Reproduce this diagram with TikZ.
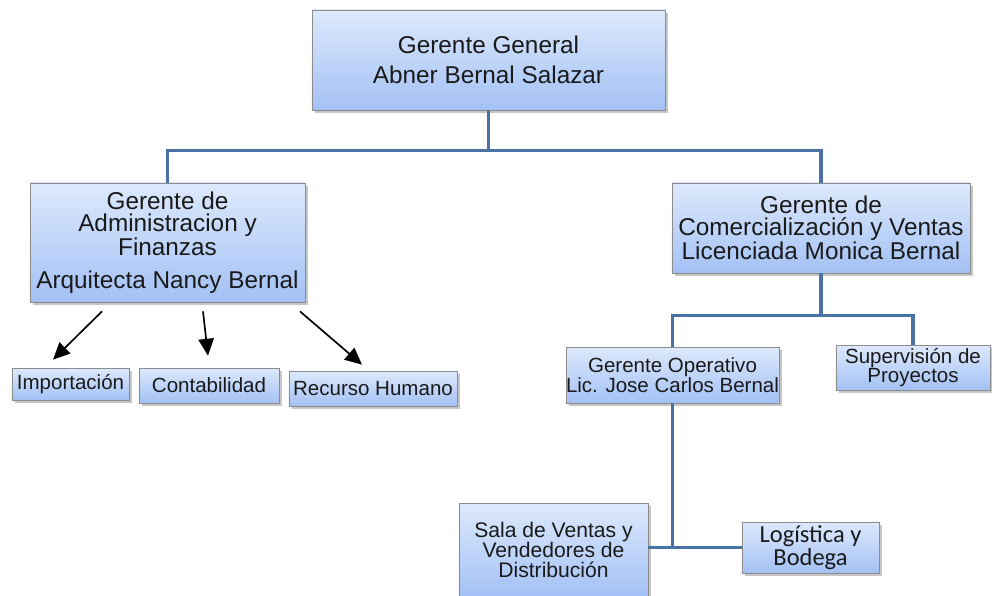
\documentclass[tikz,border=0pt]{standalone}
\usepackage{fontspec}
\setmainfont{Liberation Sans}
\newfontfamily\calfont{Carlito}
\usetikzlibrary{arrows.meta,shadows}
\definecolor{boxtop}{HTML}{DDE9FC}
\definecolor{boxbot}{HTML}{A3C1F5}
\definecolor{boxline}{HTML}{8C8C8C}
\definecolor{linkblue}{HTML}{4A72A5}
\definecolor{inktext}{HTML}{1A1A1A}

\begin{document}
\begin{tikzpicture}[x=0.025cm, y=-0.025cm,
  orgbox/.style={draw=boxline, line width=0.5pt, top color=boxtop, bottom color=boxbot,
    drop shadow={shadow xshift=2pt, shadow yshift=-2pt, opacity=0.45},
    align=center, inner sep=0pt, text=inktext},
  bigtxt/.style={font=\fontsize{17.3}{15.6}\selectfont},
  smalltxt/.style={font=\fontsize{14.6}{13.5}\selectfont},
  link/.style={draw=linkblue, line width=2.5pt},
  arr/.style={-{Triangle[length=12pt,width=11pt]}, line width=1.2pt, black}]
  \useasboundingbox (0,0) rectangle (992,595);

  % top level
  \node[orgbox, bigtxt, font=\fontsize{17.3}{21.3}\selectfont,
        minimum width=8.825cm, minimum height=2.5cm] (gg) at (488.5,60)
        {Gerente General\\Abner Bernal Salazar};

  % second level
  \node[orgbox, bigtxt, minimum width=6.875cm, minimum height=2.975cm] (admin) at (167.5,242.5)
        {Gerente de\\Administracion y\\Finanzas\\[7.8pt]Arquitecta Nancy Bernal};
  \node[orgbox, bigtxt, minimum width=7.45cm, minimum height=2.25cm] (comerc) at (821,228)
        {Gerente de\\Comercialización y Ventas\\Licenciada Monica Bernal};

  % under administracion
  \node[orgbox, smalltxt, minimum width=2.925cm, minimum height=0.8cm] (imp) at (70.5,384) {Importación};
  \node[orgbox, smalltxt, minimum width=3.5cm, minimum height=0.875cm] (contab) at (209,385.5) {Contabilidad};
  \node[orgbox, smalltxt, minimum width=4.2cm, minimum height=0.875cm] (rrhh) at (373,388.5) {Recurso Humano};

  % under comercializacion
  \node[orgbox, smalltxt, minimum width=5.275cm, minimum height=1.4cm] (gerop) at (672.5,375)
        {Gerente Operativo\\Lic. Jose Carlos Bernal};
  \node[orgbox, smalltxt, minimum width=3.85cm, minimum height=1.125cm] (superv) at (913,367.5)
        {Supervisión de\\Proyectos};

  % bottom level
  \node[orgbox, font=\fontsize{15}{14}\selectfont, minimum width=4.725cm, minimum height=2.35cm] (sala) at (553.5,550)
        {Sala de Ventas y\\Vendedores de\\Distribución};
  \node[orgbox, font=\calfont\fontsize{17.4}{16.4}\selectfont, minimum width=3.425cm, minimum height=1.275cm] (logis) at (810.5,547.5)
        {Logística y\\Bodega};

  % connectors
  \draw[link] (gg.south) -- ++(0,40) -| (admin.north);
  \draw[link] (gg.south) -- ++(0,40) -| (comerc.north);
  \draw[link] (comerc.south) -- ++(0,42) -| (gerop.north);
  \draw[link] (comerc.south) -- ++(0,42) -| (superv.north);
  \draw[link] (gerop.south) -- (gerop.south |- logis.west);
  \draw[link] (sala.east |- logis.west) -- (logis.west);

  % arrows
  \draw[arr] ([shift={(-65.5,9)}]admin.south) -- ([shift={(-17.5,-8)}]imp.north);
  \draw[arr] ([shift={(35.5,9)}]admin.south) -- ([shift={(-1,-12)}]contab.north);
  \draw[arr] ([shift={(132.5,9)}]admin.south) -- ([shift={(-11,-6)}]rrhh.north);
\end{tikzpicture}
\end{document}
